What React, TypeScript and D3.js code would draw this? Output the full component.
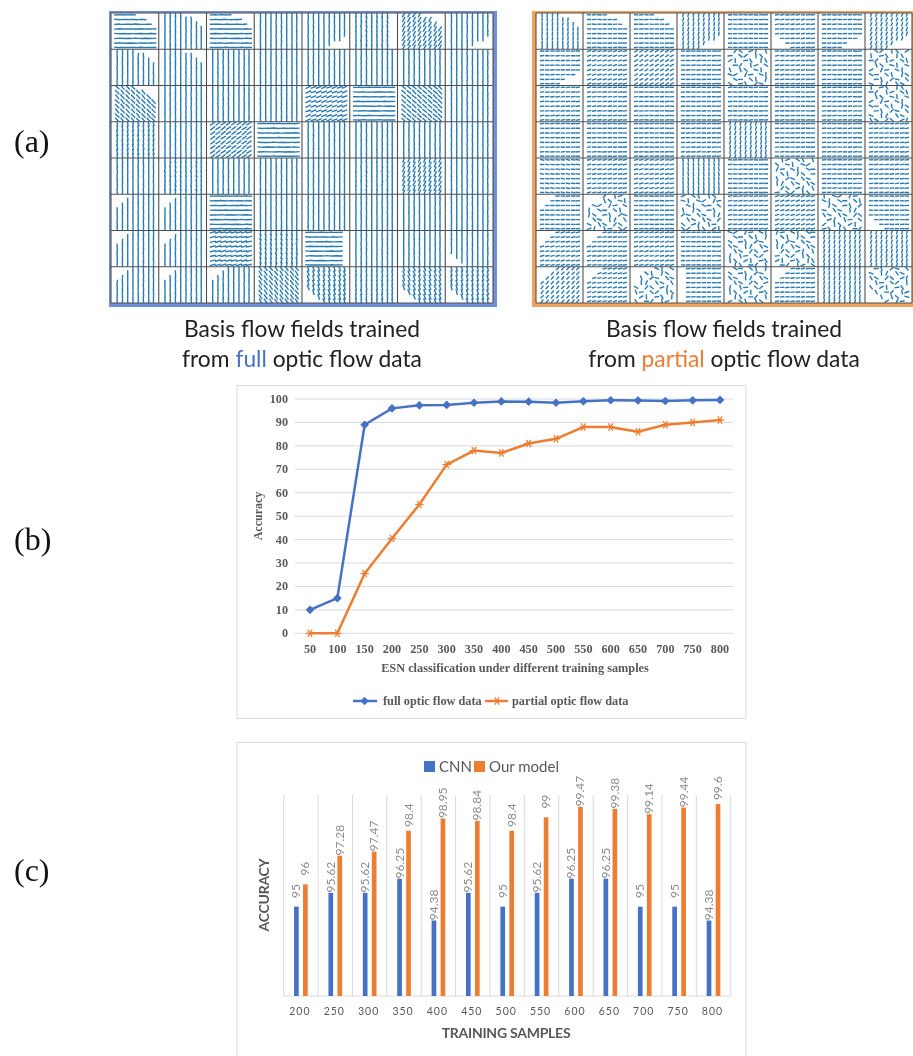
import { useMemo } from 'react'
import * as d3 from 'd3'

// (a) flow fields: line angle of each cell in degrees, 'n' marks a scrambled cell
const fullAngles = [
  [0, 90, 0, 90, 90, 85, 60, 90],
  [90, 90, 90, 90, 90, 90, 90, 90],
  [-48, 90, 90, 90, 22, 0, -42, 90],
  [-82, 90, 35, 0, 90, 90, 90, 90],
  [90, 84, 90, 90, 90, 86, 66, 90],
  [90, 90, 0, 90, 90, 90, 90, 90],
  [90, 90, 14, 80, 0, 90, 90, 90],
  [90, 90, 90, -55, -72, -84, -70, -76],
]
const fullCuts = [
  ['tr', 'tr', 'tr', '', 'br', 'r', 'tr', 'br'],
  ['tr', 'tr', '', '', '', '', '', ''],
  ['tr', '', '', '', '', '', '', ''],
  ['', '', '', '', '', '', '', ''],
  ['', '', '', '', '', '', '', ''],
  ['tl', 'tl', '', '', '', '', '', ''],
  ['tl', 'tl', '', '', 'r', '', '', 'bl'],
  ['tl', 'tl', 'tl', '', 'bl', '', 'bl', 'bl'],
]
const partialAngles = [
  [86, 0, 0, 78, 0, 6, 2, 70],
  [2, 14, 30, 2, 'n', 6, 2, 'n'],
  [6, 6, 2, 2, 2, 2, 4, 'n'],
  [2, 2, 2, 4, 76, 2, 4, 6],
  [-6, 10, 12, -84, 1, 'n', 3, 5],
  [1, 'n', 1, 'n', 6, 16, 'n', 0],
  [12, 8, 12, 2, 'n', 'n', 76, 76],
  [48, 14, 'n', 2, 'n', 5, 80, 'n'],
]
const partialCuts = [
  ['tr', 'tr', 'tr', 'br', '', 'bl', 'br', 'br'],
  ['br', '', '', '', '', '', '', ''],
  ['', '', '', '', '', '', '', ''],
  ['', '', '', '', '', '', '', ''],
  ['', '', '', '', '', '', '', ''],
  ['tl', 'tl', '', '', '', '', '', 'bl'],
  ['tl', 'tl', '', '', '', '', '', ''],
  ['tl', 'tl', 'tl', 'l', '', 'tl', '', 'bl'],
]
// hand-set turns for the scrambled cells and small wobble for the rest
const scrambleTurns = [20, 75, -35, 110, 5, -70, 140, 40, -15, 95, -50, 160, 30, -85, 65, 10, 125, -25, 85, -60, 150, 0, 50, -40, 100]
const wobble = [0, 3, -4, 2, -2, 5, -3, 1, 4, -5, 2, -1]
const gridCols = [0.13, 0.24, 0.35, 0.46, 0.57, 0.68, 0.79, 0.89]
const gridRows = [0.05, 0.18, 0.31, 0.44, 0.57, 0.7, 0.83, 0.95]

// (b) line chart
const samplesB = ['50', '100', '150', '200', '250', '300', '350', '400', '450', '500', '550', '600', '650', '700', '750', '800']
const fullFlow = [10, 15, 89, 96, 97.28, 97.47, 98.4, 98.95, 98.84, 98.4, 99, 99.47, 99.38, 99.14, 99.44, 99.6]
const partialFlow = [0, 0, 25.5, 40.5, 55, 72, 78, 77, 81, 83, 88, 88, 86, 89, 90, 91]
const ticksB = [0, 10, 20, 30, 40, 50, 60, 70, 80, 90, 100]

// (c) bar chart
const samplesC = ['200', '250', '300', '350', '400', '450', '500', '550', '600', '650', '700', '750', '800']
const cnn = [95, 95.62, 95.62, 96.25, 94.38, 95.62, 95, 95.62, 96.25, 96.25, 95, 95, 94.38]
const ourModel = [96, 97.28, 97.47, 98.4, 98.95, 98.84, 98.4, 99, 99.47, 99.38, 99.14, 99.44, 99.6]
const seriesC = ['CNN', 'Our model']

const BLUE = '#4472c4'
const ORANGE = '#ed7d31'
const FLOW = '#2a7cb3'
const GRID = '#d9d9d9'
const SERIF = '"Liberation Serif", serif'
const SANS = 'Lato, sans-serif'

function hidden(cut: string, u: number, v: number) {
  if (cut === 'tr') return u - v > 0.5
  if (cut === 'tl') return v < 0.5 - u
  if (cut === 'br') return u + v > 1.5
  if (cut === 'bl') return v - u > 0.5
  if (cut === 'r') return u > 0.8
  if (cut === 'l') return u < 0.2
  return false
}

function cellPath(angle: number | string, cut: string, w: number, h: number, seg: number, seed: number) {
  const p = d3.path()
  let k = seed
  for (const v of gridRows) {
    for (const u of gridCols) {
      k += 1
      if (hidden(cut, u, v)) continue
      const scrambled = angle === 'n'
      // scrambled cells have holes where the field was not recovered
      if (scrambled && k % 3 === 0) continue
      const deg = scrambled
        ? scrambleTurns[k % scrambleTurns.length]
        : (angle as number) + wobble[k % wobble.length]
      const a = (deg * Math.PI) / 180
      const len = scrambled ? seg * 1.15 : seg
      const x = u * w
      const y = v * h
      const dx = (Math.cos(a) * len) / 2
      const dy = (Math.sin(a) * len) / 2
      p.moveTo(x - dx, y + dy)
      p.lineTo(x + dx, y - dy)
    }
  }
  return p.toString()
}

function FlowPanel({ id, x0, x1, y0, y1, angles, cuts, color, seg }: any) {
  const xs = d3.scaleBand<number>().domain(d3.range(8)).range([x0, x1])
  const ys = d3.scaleBand<number>().domain(d3.range(8)).range([y0, y1])
  const w = xs.bandwidth()
  const h = ys.bandwidth()
  return (
    <g>
      <rect x={x0 - 2} y={y0 - 2} width={x1 - x0 + 4} height={y1 - y0 + 4} fill="none" stroke={color} strokeWidth={4} />
      <clipPath id={id}><rect width={w} height={h} /></clipPath>
      {angles.map((row: any[], r: number) =>
        row.map((angle, c) => (
          <g key={`${r}-${c}`} transform={`translate(${xs(c)},${ys(r)})`}>
            <path
              clipPath={`url(#${id})`}
              d={cellPath(angle, cuts[r][c], w, h, seg, r * 8 + c * 3)}
              fill="none"
              stroke={FLOW}
              strokeWidth={1.4}
            />
          </g>
        ))
      )}
      {d3.range(9).map(i => (
        <g key={i} stroke="#4f4f4f" strokeWidth={1.1}>
          <line x1={x0 + i * w} x2={x0 + i * w} y1={y0} y2={y1} />
          <line x1={x0} x2={x1} y1={y0 + i * h} y2={y0 + i * h} />
        </g>
      ))}
    </g>
  )
}

function Caption({ x, word, color }: { x: number; word: string; color: string }) {
  return (
    <g fontFamily={SANS} fontSize={22.8} fill="#222" textAnchor="middle">
      <text x={x} y={337}>Basis flow fields trained</text>
      <text x={x} y={367}>
        from <tspan fill={color}>{word}</tspan> optic flow data
      </text>
    </g>
  )
}

function LineChart() {
  const x = d3.scalePoint().domain(samplesB).range([310, 720])
  const y = d3.scaleLinear().domain([0, 100]).range([633.3, 399])
  const line = d3.line<number>().x((_, i) => x(samplesB[i]) as number).y(d => y(d))
  const diamond = d3.symbol().type(d3.symbolSquare).size(38)()
  const star = d3.symbol().type(d3.symbolAsterisk).size(50)()
  const lx = (v: string) => x(v) as number
  return (
    <g fontFamily={SERIF} fontWeight="bold" fill="#595959">
      <rect x={237} y={385.5} width={509} height={333} fill="#fff" stroke="#d9d9d9" />
      {ticksB.map(t => (
        <g key={t}>
          <line x1={295} x2={733} y1={y(t)} y2={y(t)} stroke={GRID} />
          <text x={288} y={y(t) + 4} textAnchor="end" fontSize={12.2}>{t}</text>
        </g>
      ))}
      {samplesB.map(s => (
        <text key={s} x={lx(s)} y={652.5} textAnchor="middle" fontSize={12.2}>{s}</text>
      ))}
      <text x={515} y={672} textAnchor="middle" fontSize={12.3}>ESN classification under different training samples</text>
      <text transform="translate(262,516) rotate(-90)" textAnchor="middle" fontSize={12}>Accuracy</text>
      <path d={line(fullFlow) as string} fill="none" stroke={BLUE} strokeWidth={2.5} />
      <path d={line(partialFlow) as string} fill="none" stroke={ORANGE} strokeWidth={2.5} />
      {fullFlow.map((v, i) => (
        <path key={i} d={diamond as string} transform={`translate(${lx(samplesB[i])},${y(v)}) rotate(45)`} fill={BLUE} />
      ))}
      {partialFlow.map((v, i) => (
        <path key={i} d={star as string} transform={`translate(${lx(samplesB[i])},${y(v)}) rotate(90)`} fill="none" stroke={ORANGE} strokeWidth={1.3} />
      ))}
      <line x1={353} x2={377} y1={701} y2={701} stroke={BLUE} strokeWidth={2.5} />
      <path d={diamond as string} transform="translate(364.5,701) rotate(45)" fill={BLUE} />
      <text x={383} y={705} fontSize={12.3}>full optic flow data</text>
      <line x1={485} x2={508} y1={701} y2={701} stroke={ORANGE} strokeWidth={2.5} />
      <path d={star as string} transform="translate(497,701) rotate(90)" fill="none" stroke={ORANGE} strokeWidth={1.3} />
      <text x={512} y={705} fontSize={12.3}>partial optic flow data</text>
    </g>
  )
}

function BarChart() {
  const x = d3.scaleBand().domain(samplesC).range([283.7, 730.7])
  const inner = d3.scaleBand().domain(seriesC).range([0, x.bandwidth()]).paddingInner(0.48).paddingOuter(1.15)
  const y = d3.scaleLinear().domain([91, 100]).range([996, 795])
  const series = [
    { name: seriesC[0], values: cnn, color: BLUE },
    { name: seriesC[1], values: ourModel, color: ORANGE },
  ]
  return (
    <g fontFamily={SANS}>
      <rect x={237} y={742.5} width={509} height={330} fill="#fff" stroke="#d9d9d9" />
      {d3.range(14).map(i => {
        const gx = 283.7 + i * x.step()
        return <line key={i} x1={gx} x2={gx} y1={795} y2={996} stroke={GRID} />
      })}
      <line x1={283.7} x2={730.7} y1={996} y2={996} stroke={GRID} />
      {series.map(s =>
        s.values.map((v, i) => {
          const bx = (x(samplesC[i]) as number) + (inner(s.name) as number)
          return (
            <g key={s.name + i}>
              <rect x={bx} y={y(v)} width={inner.bandwidth()} height={996 - y(v)} fill={s.color} />
              <text
                transform={`translate(${bx + inner.bandwidth() / 2 + 4},${y(v) - 15.7}) rotate(-90)`}
                textAnchor="middle"
                fontSize={12}
                fill="#8c8c8c"
              >
                {v}
              </text>
            </g>
          )
        })
      )}
      {samplesC.map(s => (
        <text
          key={s}
          x={(x(s) as number) + x.bandwidth() / 2 - 1}
          y={1015}
          textAnchor="middle"
          fontSize={10.5}
          letterSpacing={1}
          fill="#595959"
        >
          {s}
        </text>
      ))}
      <text x={506} y={1038} textAnchor="middle" fontSize={14} letterSpacing={-0.25} fontWeight="bold" fill="#595959">TRAINING SAMPLES</text>
      <text transform="translate(269,895) rotate(-90)" textAnchor="middle" fontSize={14} letterSpacing={-0.25} fontWeight="bold" fill="#595959">ACCURACY</text>
      <rect x={424} y={761} width={11} height={11} fill={BLUE} />
      <text x={439} y={772} fontSize={15} fill="#595959">{seriesC[0]}</text>
      <rect x={474} y={761} width={11} height={11} fill={ORANGE} />
      <text x={489} y={772} fontSize={15} fill="#595959">{seriesC[1]}</text>
    </g>
  )
}

export default function App() {
  const panels = useMemo(() => ({ full: fullAngles, partial: partialAngles }), [])
  return (
    <svg
      width={913}
      height={1056}
      viewBox="0 0 913 1056"
      style={{ position: 'absolute', left: 0, top: 0, background: '#fff' }}
    >
      <defs>
        <filter id="soft" x="0" y="0" width="100%" height="100%">
          <feGaussianBlur stdDeviation="0.35" />
        </filter>
      </defs>
      <g filter="url(#soft)">
        <FlowPanel id="cf" x0={111} x1={493} y0={13} y1={303} angles={panels.full} cuts={fullCuts} color="#6f8fd6" seg={6} />
        <FlowPanel id="cp" x0={536} x1={912} y0={13} y1={303} angles={panels.partial} cuts={partialCuts} color="#f0a35e" seg={4.4} />
        <LineChart />
        <BarChart />
      </g>
      <Caption x={302} word="full" color={BLUE} />
      <Caption x={724} word="partial" color={ORANGE} />
      <g fontFamily={SERIF} fontSize={32} fill="#111">
        <text x={14} y={152}>(a)</text>
        <text x={14} y={550}>(b)</text>
        <text x={14} y={881}>(c)</text>
      </g>
    </svg>
  )
}
